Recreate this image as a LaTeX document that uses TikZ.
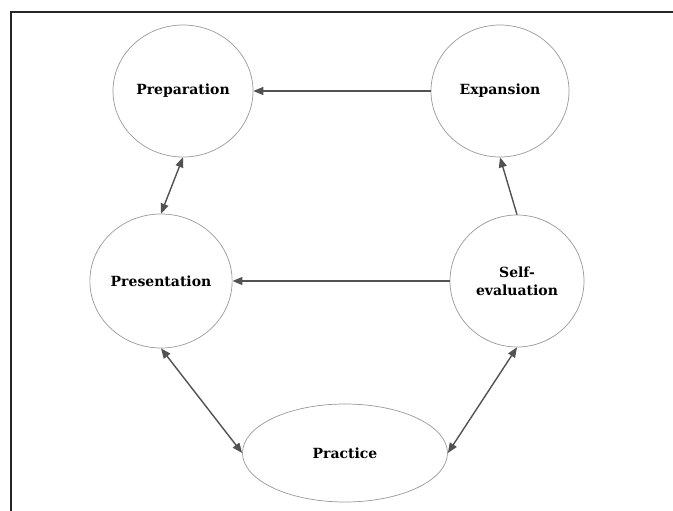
\documentclass[tikz,border=0pt]{standalone}
\usepackage{fontspec}
\setmainfont{DejaVu Serif}
\usetikzlibrary{shapes.geometric,arrows.meta}
\begin{document}
\begin{tikzpicture}[x=1pt,y=-1pt,
  circ/.style={draw=black!40,line width=0.7pt,ellipse,inner sep=0pt,font=\bfseries\fontsize{14}{18}\selectfont,align=center,fill=white},
  conn/.style={draw=black!68,line width=1.4pt,-{Triangle[length=10pt,width=8pt]}},
  bconn/.style={draw=black!68,line width=1.4pt,{Triangle[length=10pt,width=8pt]}-{Triangle[length=10pt,width=8pt]}},
  frame/.style={line width=1.8pt,black!85}]
\useasboundingbox (0,0) rectangle (673,511);
\coordinate (ftl) at (11,12);
\coordinate (ftr) at (673,12);
\coordinate (fbl) at (11,511);
\draw[frame] (ftr) -- (ftl) -- (fbl);
\node[circ,minimum width=140pt,minimum height=132pt] (prep) at (183,91) {Preparation};
\node[circ,minimum width=138pt,minimum height=132pt] (exp) at (500,91) {Expansion};
\node[circ,minimum width=138pt,minimum height=134pt] (pres) at (161,281) {Presentation};
\node[circ,minimum width=134pt,minimum height=132pt] (self) at (517,281) {Self-\\evaluation};
\node[circ,minimum width=205pt,minimum height=98pt] (prac) at (345,453) {Practice};
\draw[conn] (exp.west) -- (prep.east);
\draw[conn] (self.west) -- (pres.east);
\draw[conn] (self.north) -- (exp.south);
\draw[bconn] (prep.south) -- (pres.north);
\draw[bconn] (pres.south) -- (prac.west);
\draw[bconn] (self.south) -- (prac.east);
\end{tikzpicture}
\end{document}
